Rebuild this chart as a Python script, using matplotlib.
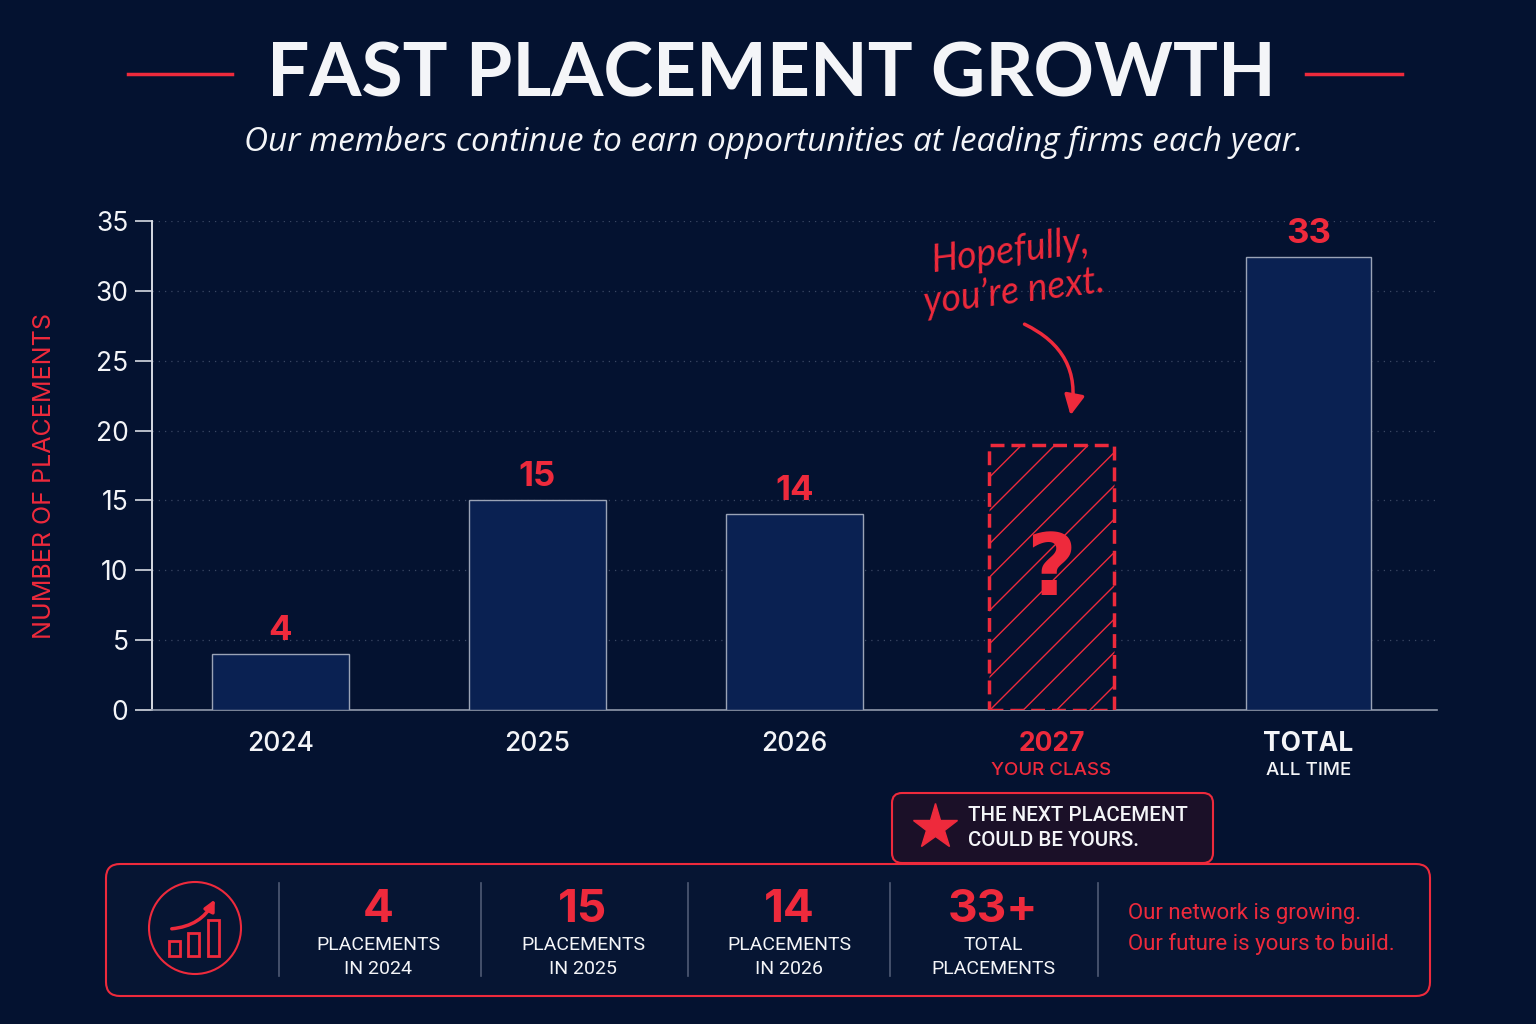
import matplotlib.pyplot as plt
from matplotlib.patches import FancyBboxPatch, Circle, Rectangle, FancyArrowPatch

# chart data
years = ["2024", "2025", "2026", "2027", "TOTAL"]
sub_labels = ["", "", "", "YOUR CLASS", "ALL TIME"]
placements = [4, 15, 14, 19, 32.4]
value_labels = ["4", "15", "14", "", "33"]
y_ticks = [0, 5, 10, 15, 20, 25, 30, 35]

# summary strip
stat_numbers = ["4", "15", "14", "33+"]
stat_captions = ["PLACEMENTS\nIN 2024", "PLACEMENTS\nIN 2025", "PLACEMENTS\nIN 2026", "TOTAL\nPLACEMENTS"]

BG = "#041230"
BAR = "#0a2152"
RED = "#ee2a3c"
WHITE = "#f4f5f8"

plt.rcParams['font.family'] = ['Inter', 'DejaVu Sans']
plt.rcParams['hatch.linewidth'] = 1.0

fig = plt.figure(figsize=(15.36, 10.24), dpi=100, facecolor=BG)

# main chart (pixel box 152..1437 x 221..710)
ax = fig.add_axes([152 / 1536, 1 - 710 / 1024, (1437 - 152) / 1536, (710 - 221) / 1024])
ax.set_facecolor(BG)

widths = [0.53, 0.53, 0.53, 0.49, 0.49]
bars = ax.bar(range(len(years)), placements, width=widths, color=BAR,
              edgecolor="#9aa3b6", linewidth=1.0, zorder=3)
ph = bars[3]
ph.set_facecolor(BG)
ph.set_edgecolor(RED)
ph.set_hatch("/")
ph.set_linestyle((0, (4, 2)))
ph.set_linewidth(2.5)

for i, lab in enumerate(value_labels):
    if lab:
        ax.annotate(lab, (i, placements[i]), xytext=(0, 5), textcoords="offset points",
                    ha="center", va="bottom", color=RED, fontsize=25, fontweight="bold")
ax.text(3, placements[3] * 0.52, "?", ha="center", va="center", color=RED,
        fontsize=62, fontweight="bold", family="DejaVu Sans", zorder=4)

ax.set_xlim(-0.5, 4.5)
ax.set_ylim(0, 35)
ax.set_yticks(y_ticks)
ax.set_yticklabels([str(t) for t in y_ticks], color=WHITE, fontsize=19)
ax.tick_params(axis="y", length=12, width=1.2, color="#d6dae2", pad=5)
ax.set_xticks(range(len(years)))
ax.set_xticklabels(years, fontsize=19, fontweight="medium")
ax.tick_params(axis="x", length=0, pad=15)
for i, t in enumerate(ax.get_xticklabels()):
    if i == 3:
        t.set_color(RED)
        t.set_fontweight("bold")
    elif i == 4:
        t.set_color(WHITE)
        t.set_fontweight("bold")
    else:
        t.set_color(WHITE)
for i, s in enumerate(sub_labels):
    if s:
        ax.text(i, -0.123, s, transform=ax.get_xaxis_transform(), ha="center", va="center",
                fontsize=13.5, fontweight="medium", color=RED if i == 3 else WHITE)

for side in ["top", "right"]:
    ax.spines[side].set_visible(False)
ax.spines["left"].set_color("#d6dae2")
ax.spines["left"].set_linewidth(1.4)
ax.spines["bottom"].set_color("#9099ab")
ax.spines["bottom"].set_linewidth(1.2)
ax.yaxis.grid(True, linestyle=(0, (1, 4)), color="#3a4763", linewidth=0.9)
ax.set_axisbelow(True)

fig.text(45 / 1536, 1 - 476 / 1024, "NUMBER OF PLACEMENTS", rotation=90, ha="center", va="center",
         color=RED, fontsize=18)

# titles
fig.text(771 / 1536, 1 - 75 / 1024, "FAST PLACEMENT GROWTH", ha="center", va="center",
         color=WHITE, fontsize=54, fontweight="bold", family="Lato")
fig.text(774 / 1536, 1 - 142 / 1024, "Our members continue to earn opportunities at leading firms each year.",
         ha="center", va="center", color=WHITE, fontsize=24, style="italic", family="Open Sans")

# overlay in pixel coordinates for decorations
ov = fig.add_axes([0, 0, 1, 1])
ov.set_xlim(0, 1536)
ov.set_ylim(1024, 0)
ov.axis("off")
ov.patch.set_alpha(0)

ov.plot([128, 232], [74, 74], color=RED, lw=2.5)
ov.plot([1306, 1402], [74, 74], color=RED, lw=2.5)

ov.text(1012, 272, "Hopefully,\nyou\u2019re next.", ha="center", va="center", rotation=7,
        color=RED, fontsize=27, style="italic", family="Lato", linespacing=1.15)
ov.add_patch(FancyArrowPatch((1022, 323), (1070, 418), connectionstyle="arc3,rad=-0.4",
                             arrowstyle="-|>", mutation_scale=30, lw=2.5, color=RED))

# bottom panel
ov.add_patch(FancyBboxPatch((106, 864), 1324, 132, boxstyle="round,pad=0,rounding_size=14",
                            fc="#061533", ec=RED, lw=1.5))
ov.add_patch(FancyBboxPatch((892, 793), 321, 70, boxstyle="round,pad=0,rounding_size=10",
                            fc="#1b1028", ec=RED, lw=1.5, zorder=3))
ov.plot(935, 827, marker="*", ms=34, color=RED, zorder=4)
ov.text(968, 828, "THE NEXT PLACEMENT\nCOULD BE YOURS.", ha="left", va="center", color=WHITE,
        fontsize=14.8, fontweight="medium", linespacing=1.4, family="Roboto", zorder=4)

for x in [279, 481, 688, 890, 1098]:
    ov.plot([x, x], [883, 976], color="#4f5a74", lw=1.2)

for cx, num, cap in zip([378, 583, 789, 993], stat_numbers, stat_captions):
    ov.text(cx, 910, num, ha="center", va="center", color=RED, fontsize=33, fontweight="bold")
    ov.text(cx, 957, cap, ha="center", va="center", color=WHITE, fontsize=14,
            linespacing=1.45, family="Roboto")

ov.text(1128, 914, "Our network is growing.", ha="left", va="center", color=RED, fontsize=16, family="Roboto")
ov.text(1128, 944, "Our future is yours to build.", ha="left", va="center", color=RED, fontsize=16, family="Roboto")

# icon
ov.add_patch(Circle((195, 928), 46, fill=False, ec=RED, lw=1.5))
for (x0, y0, w, h) in [(169, 941, 11, 15), (188, 933, 11, 23), (208, 920, 11, 36)]:
    ov.add_patch(Rectangle((x0, y0), w, h, fill=False, ec=RED, lw=2))
ov.add_patch(FancyArrowPatch((169, 929), (216, 897), connectionstyle="arc3,rad=0.3",
                             arrowstyle="-|>", mutation_scale=16, lw=2.5, color=RED))

fig.savefig("out.png", dpi=100, facecolor=BG)
